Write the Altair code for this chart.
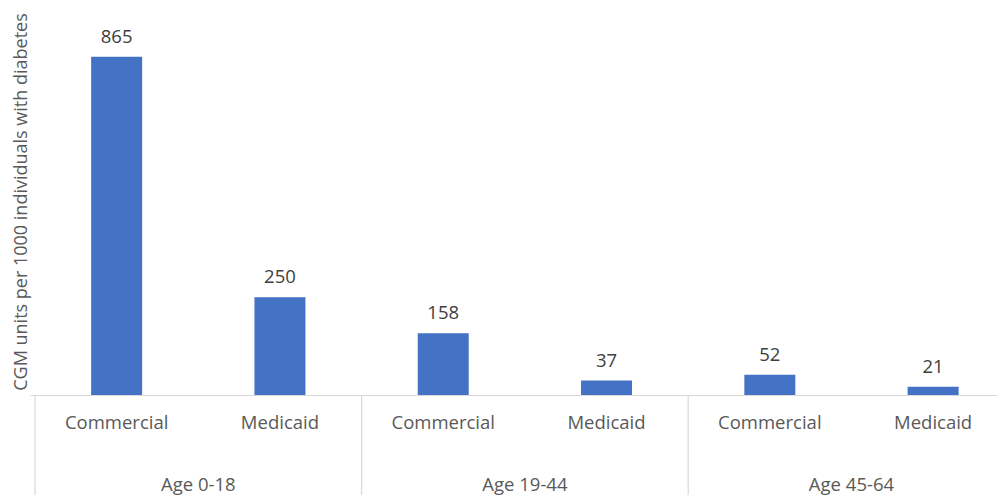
import altair as alt
import pandas as pd

groups = ["Age 0-18", "Age 0-18", "Age 19-44", "Age 19-44", "Age 45-64", "Age 45-64"]
payers = ["Commercial", "Medicaid", "Commercial", "Medicaid", "Commercial", "Medicaid"]
values = [865, 250, 158, 37, 52, 21]
slot_pos = [0.5, 1.5, 2.5, 3.5, 4.5, 5.5]
group_names = ["Age 0-18", "Age 19-44", "Age 45-64"]
group_pos = [1, 3, 5]
boundaries = [0, 2, 4, 6]

W, H = 967, 387
BOTTOM = 100
FONT = "Open Sans"
FS = 18.5

bars_df = pd.DataFrame({"group": groups, "payer": payers, "value": values, "pos": slot_pos})
grp_df = pd.DataFrame({"group": group_names, "pos": group_pos})
bnd_df = pd.DataFrame({"b": boundaries})

xscale = alt.Scale(domain=[0, W / 165.0], nice=False, zero=False)
yscale = alt.Scale(domain=[0, 990], nice=False)

base = alt.Chart(bars_df)

bars = base.mark_bar(color="#4472C4", size=51).encode(
    x=alt.X("pos:Q", scale=xscale,
            axis=alt.Axis(labels=False, ticks=False, grid=False, title=None,
                          domainColor="#d9d9d9", domainWidth=1.2)),
    y=alt.Y("value:Q", scale=yscale,
            axis=alt.Axis(labels=False, ticks=False, grid=False, domain=False,
                          title="CGM units per 1000 individuals with diabetes",
                          titleFont=FONT, titleFontSize=18, titleFontWeight="normal",
                          titleColor="#595959", titlePadding=0)),
)

vals = base.mark_text(font=FONT, fontSize=FS, color="#404040", dy=-10, baseline="bottom").encode(
    x=alt.X("pos:Q", scale=xscale),
    y=alt.Y("value:Q", scale=yscale),
    text="value:Q",
)

cat_labels = base.mark_text(font=FONT, fontSize=FS, color="#595959", baseline="middle").encode(
    x=alt.X("pos:Q", scale=xscale),
    y=alt.value(H + 28),
    text="payer:N",
)

grp_labels = alt.Chart(grp_df).mark_text(font=FONT, fontSize=FS, color="#595959", baseline="middle").encode(
    x=alt.X("pos:Q", scale=xscale),
    y=alt.value(H + 90),
    text="group:N",
)

seps = alt.Chart(bnd_df).mark_rule(color="#d9d9d9", strokeWidth=1.2, clip=False).encode(
    x=alt.X("b:Q", scale=xscale),
    y=alt.value(H),
    y2=alt.value(H + BOTTOM),
)

chart = alt.layer(bars, vals, cat_labels, grp_labels, seps).properties(
    width=W, height=H,
    autosize=alt.AutoSizeParams(type="none"),
    padding={"left": 22, "top": 0, "right": 0, "bottom": BOTTOM},
).configure_view(stroke=None)

chart.save("out.html", embed_options={"renderer": "svg", "actions": False})
